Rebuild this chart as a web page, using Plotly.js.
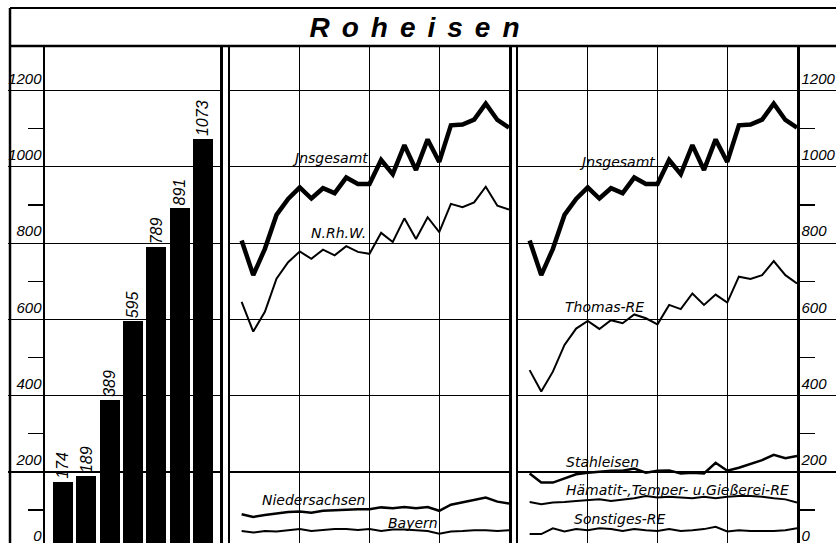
<!DOCTYPE html>
<html>
<head>
<meta charset="utf-8">
<script src="https://cdn.plot.ly/plotly-3.0.1.min.js"></script>
<style>
  html, body { margin: 0; padding: 0; overflow: hidden; background: #fff; }
  #graph { width: 836px; height: 560px; }
</style>
</head>
<body>
<div id="graph"></div>
<script>
// Bars (left panel)
var barPos = [0, 1, 2, 3, 4, 5, 6];
var barValues = [174, 189, 389, 595, 789, 891, 1073];

// Periods for both line panels
var periods = [1, 2, 3, 4, 5, 6, 7, 8, 9, 10, 11, 12, 13, 14, 15, 16, 17, 18, 19, 20, 21, 22, 23, 24];

// middle panel
var insgesamt = [807, 716, 785, 874, 916, 946, 917, 944, 931, 972, 955, 955, 1018, 981, 1057, 992, 1072, 1013, 1109, 1111, 1124, 1166, 1123, 1103];
var nrhw = [646, 568, 620, 707, 750, 778, 759, 783, 768, 792, 777, 772, 827, 803, 865, 811, 868, 829, 903, 894, 907, 948, 898, 888];
var niedersachsen = [89, 82, 87, 91, 95, 96, 93, 98, 100, 101, 102, 102, 107, 105, 108, 105, 108, 98, 114, 120, 126, 133, 122, 117];
var bayern = [45, 41, 45, 44, 47, 50, 45, 48, 50, 50, 48, 50, 45, 49, 49, 47, 45, 38, 44, 45, 47, 47, 45, 47];

// right panel
var thomas = [467, 411, 463, 533, 576, 596, 575, 598, 590, 613, 603, 587, 638, 627, 668, 638, 665, 644, 712, 706, 716, 753, 716, 694];
var stahleisen = [196, 172, 172, 183, 194, 198, 201, 203, 203, 209, 198, 203, 204, 196, 198, 196, 224, 203, 211, 222, 231, 245, 236, 242];
var haematit = [121, 115, 120, 121, 124, 126, 128, 124, 128, 131, 137, 133, 135, 133, 131, 135, 131, 135, 137, 137, 135, 131, 128, 120];
var sonstiges = [37, 37, 52, 44, 50, 47, 52, 50, 45, 50, 47, 45, 50, 45, 47, 50, 56, 44, 47, 45, 45, 45, 47, 52];

var yTicks = [0, 200, 400, 600, 800, 1000, 1200];
var yMinor = [100, 300, 500, 700, 900, 1100];

var W = 836, H = 560;
var yRange = [-31, 1317];
var plotTop = 1 - 46 / H;
var narrow = 'Liberation Sans Narrow, Arial Narrow, sans-serif';
var hand = 'DejaVu Sans, sans-serif';

function px(x) { return x / W; }
function py(y) { return 1 - y / H; }

function lineTrace(y, xa, ya, w) {
    return {x: periods, y: y, xaxis: xa, yaxis: ya, type: 'scatter', mode: 'lines',
            line: {color: 'black', width: w}, hoverinfo: 'skip'};
}

var data = [
    {x: barPos, y: barValues, type: 'bar', width: 0.86, marker: {color: 'black'},
     text: barValues.map(String), textposition: 'outside', textangle: -90, cliponaxis: false,
     constraintext: 'none',
     textfont: {family: narrow, size: 16, style: 'italic', color: 'black'}},
    lineTrace(insgesamt, 'x2', 'y2', 4.5),
    lineTrace(nrhw, 'x2', 'y2', 2),
    lineTrace(niedersachsen, 'x2', 'y2', 2.5),
    lineTrace(bayern, 'x2', 'y2', 2),
    lineTrace(insgesamt, 'x3', 'y3', 4.5),
    lineTrace(thomas, 'x3', 'y3', 2),
    lineTrace(stahleisen, 'x3', 'y3', 2.5),
    lineTrace(haematit, 'x3', 'y3', 2),
    lineTrace(sonstiges, 'x3', 'y3', 2)
];

var tickFont = {family: narrow, size: 15, style: 'italic', color: 'black'};

function yAxis(extra) {
    var a = {range: yRange, domain: [0, plotTop], tickvals: yTicks, showgrid: true,
             gridcolor: 'black', gridwidth: 1.2, zeroline: false, showline: true,
             linecolor: 'black', linewidth: 2.5, mirror: true, fixedrange: true};
    for (var k in extra) a[k] = extra[k];
    return a;
}
function xLineAxis(dom) {
    return {domain: dom, range: [0, 24], tick0: 0, dtick: 6, showgrid: true, gridcolor: 'black',
            gridwidth: 1.2, zeroline: false, showline: false, showticklabels: false, ticks: ''};
}

var layout = {
    width: W, height: H,
    margin: {l: 0, r: 0, t: 0, b: 0},
    paper_bgcolor: 'white', plot_bgcolor: 'white',
    showlegend: false, bargap: 0,
    title: {text: '<span style="letter-spacing:12px">Roheisen</span>',
            xref: 'container', yref: 'container', x: 0.503, y: py(27), yanchor: 'middle', xanchor: 'center',
            font: {family: narrow, size: 28, weight: 'bold', style: 'italic', color: 'black'}},
    xaxis: {domain: [px(45), px(220)], range: [-0.771, 6.73], showgrid: false, zeroline: false,
            showline: false, showticklabels: false, ticks: ''},
    yaxis: yAxis({anchor: 'x', ticks: 'outside', ticklen: 35, tickwidth: 1.2, tickcolor: 'black',
                  ticklabelstandoff: -37, ticklabelshift: -12, tickfont: tickFont,
                  minor: {tickvals: yMinor, ticks: 'outside', ticklen: 15, tickwidth: 1.2, tickcolor: 'black'}}),
    xaxis2: xLineAxis([px(230), px(509)]),
    yaxis2: yAxis({anchor: 'x2', ticks: '', showticklabels: false}),
    xaxis3: xLineAxis([px(518), px(797)]),
    yaxis3: yAxis({anchor: 'x3', side: 'right', ticks: 'outside', ticklen: 39, tickwidth: 1.2, tickcolor: 'black',
                   ticklabelstandoff: -40, ticklabelshift: -12, tickfont: tickFont,
                   minor: {tickvals: yMinor, ticks: 'outside', ticklen: 15, tickwidth: 1.2, tickcolor: 'black'}}),
    shapes: [
        {type: 'line', xref: 'paper', yref: 'paper', x0: px(10), x1: 1.02, y0: py(8), y1: py(8),
         line: {color: 'black', width: 2}},
        {type: 'line', xref: 'paper', yref: 'paper', x0: px(10), x1: 1.02, y0: plotTop, y1: plotTop,
         line: {color: 'black', width: 2.5}},
        {type: 'line', xref: 'paper', yref: 'paper', x0: px(10), x1: px(10), y0: py(8), y1: -0.05,
         line: {color: 'black', width: 2.5}}
    ],
    annotations: []
};

var labelFont = {family: hand, size: 14, style: 'italic', color: 'black'};
function label(text, x, y, xa, ya) {
    layout.annotations.push({text: text, x: x, y: y, xref: xa, yref: ya, showarrow: false,
                             font: labelFont, xanchor: 'center', yanchor: 'middle'});
}
label('Jnsgesamt', 8.6, 1024, 'x2', 'y2');
label('N.Rh.W.', 9.3, 827, 'x2', 'y2');
label('Niedersachsen', 7.2, 127, 'x2', 'y2');
label('Bayern', 15.7, 66, 'x2', 'y2');
label('Jnsgesamt', 8.5, 1012, 'x3', 'y3');
label('Thomas-RE', 7.4, 633, 'x3', 'y3');
label('Stahleisen', 7.3, 226, 'x3', 'y3');
label('Hämatit-,Temper- u.Gießerei-RE', 13.7, 153, 'x3', 'y3');
label('Sonstiges-RE', 8.8, 77, 'x3', 'y3');

Plotly.newPlot('graph', data, layout, {staticPlot: true});
</script>
</body>
</html>
